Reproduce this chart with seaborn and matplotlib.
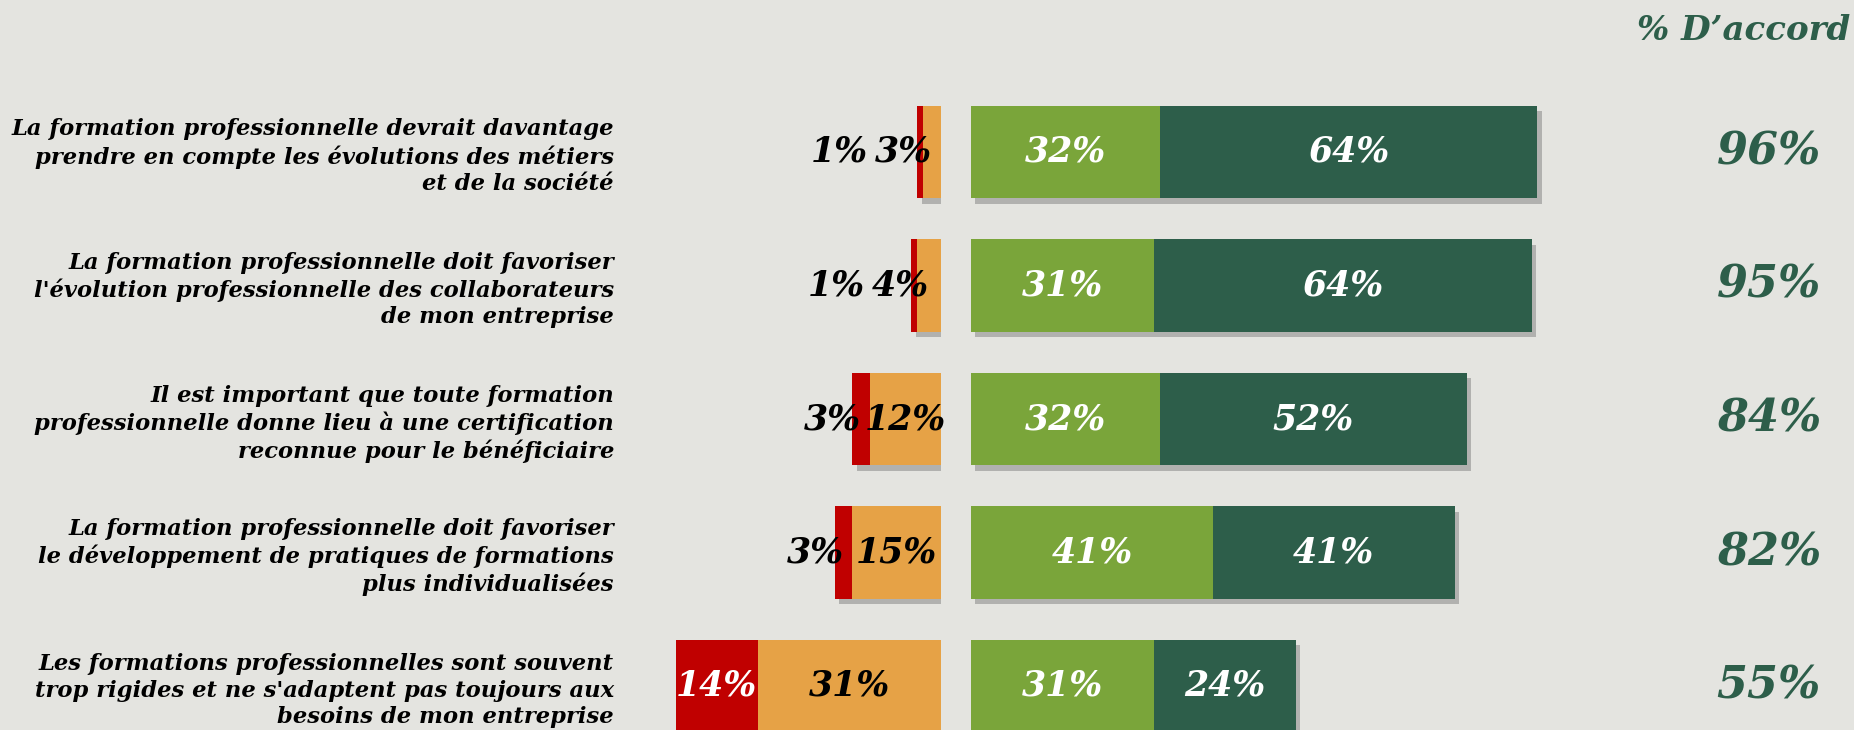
import pandas as pd
import numpy as np
import seaborn as sns
import matplotlib.pyplot as plt
import matplotlib.patheffects as pe

# statements (top to bottom)
statements = [
    "La formation professionnelle devrait davantage\nprendre en compte les évolutions des métiers\net de la société",
    "La formation professionnelle doit favoriser\nl'évolution professionnelle des collaborateurs\nde mon entreprise",
    "Il est important que toute formation\nprofessionnelle donne lieu à une certification\nreconnue pour le bénéficiaire",
    "La formation professionnelle doit favoriser\nle développement de pratiques de formations\nplus individualisées",
    "Les formations professionnelles sont souvent\ntrop rigides et ne s'adaptent pas toujours aux\nbesoins de mon entreprise",
]
pas_du_tout = [1, 1, 3, 3, 14]      # red
plutot_pas = [3, 4, 12, 15, 31]     # orange
plutot = [32, 31, 32, 41, 31]       # light green
tout_a_fait = [64, 64, 52, 41, 24]  # dark green
accord = [96, 95, 84, 82, 55]

RED = "#c00000"
ORANGE = "#e6a246"
LGREEN = "#7aa53a"
DGREEN = "#2d5e4a"
BG = "#e4e4e0"

df = pd.DataFrame({
    "statement": statements,
    "neg_total": np.add(pas_du_tout, plutot_pas),
    "orange": plutot_pas,
    "pos_total": np.add(plutot, tout_a_fait),
    "light": plutot,
})

W, H = 1854, 730
PX = 5.9          # pixels per percent
ROW = 133.5       # pixels between bars
Y0 = 152          # centre of first bar (px from top)

sns.set_theme(style="white")
plt.rcParams["font.family"] = ["DejaVu Serif"]
fig = plt.figure(figsize=(W / 100, H / 100), dpi=100)
fig.patch.set_facecolor(BG)

ylim = ((H - Y0) / ROW, -Y0 / ROW)
shadow = [pe.SimplePatchShadow(offset=(3, -4), shadow_rgbFace="#666666", alpha=0.4), pe.Normal()]
fnt = dict(fontweight="bold", fontstyle="italic")
bar_kw = dict(saturation=1, width=0.69, orient="h", linewidth=0)

# negative side
neg_left, neg_zero = 646, 941
ax_neg = fig.add_axes([neg_left / W, 0, (neg_zero - neg_left) / W, 1])
sns.barplot(data=df, x="neg_total", y="statement", order=statements, color=RED, ax=ax_neg, **bar_kw)
for p in ax_neg.patches:
    p.set_path_effects(shadow)
sns.barplot(data=df, x="orange", y="statement", order=statements, color=ORANGE, ax=ax_neg, **bar_kw)
ax_neg.set_xlim((neg_zero - neg_left) / PX, 0)
ax_neg.set_ylim(*ylim)

# positive side
pos_zero = 971
ax_pos = fig.add_axes([pos_zero / W, 0, (W - pos_zero) / W, 1])
sns.barplot(data=df, x="pos_total", y="statement", order=statements, color=DGREEN, ax=ax_pos, **bar_kw)
for p in ax_pos.patches:
    p.set_path_effects(shadow)
sns.barplot(data=df, x="light", y="statement", order=statements, color=LGREEN, ax=ax_pos, **bar_kw)
ax_pos.set_xlim(0, (W - pos_zero) / PX)
ax_pos.set_ylim(*ylim)

for ax in (ax_neg, ax_pos):
    ax.patch.set_alpha(0)
    ax.set_xlabel("")
    ax.set_ylabel("")
    ax.set_xticks([])
    for s in ax.spines.values():
        s.set_visible(False)
ax_pos.set_yticks([])

# statement labels as tick labels
ax_neg.tick_params(axis="y", length=0, pad=(neg_left - 614) * 0.72)
ax_neg.set_yticks(range(len(statements)))
ax_neg.set_yticklabels(statements, fontsize=16.3, linespacing=1.25, ha="right", color="black", **fnt)

# labels on negative side
lab_fs = 25
for i in range(len(statements)):
    r, o = pas_du_tout[i], plutot_pas[i]
    if o >= 10:
        t_o = ax_neg.text(o / 2, i, f"{o}%", ha="center", va="center", color="black", fontsize=lab_fs, **fnt)
    else:
        t_o = ax_neg.text(o / 2, i, f"{o}%", ha="right", va="center", color="black", fontsize=lab_fs, **fnt)
    if r >= 10:
        ax_neg.text(o + r / 2, i, f"{r}%", ha="center", va="center", color="white", fontsize=lab_fs, **fnt)
    elif o < 10:
        ax_neg.annotate(f"{r}%", xy=(0, 0.5), xycoords=t_o, xytext=(-5, 0), textcoords="offset points",
                        ha="right", va="center", color="black", fontsize=lab_fs, **fnt)
    else:
        ax_neg.text(o + r / 2, i, f"{r}%", ha="right", va="center", color="black", fontsize=lab_fs, **fnt)

# labels on positive side
for i in range(len(statements)):
    a, b = plutot[i], tout_a_fait[i]
    ax_pos.text(a / 2, i, f"{a}%", ha="center", va="center", color="white", fontsize=lab_fs, **fnt)
    ax_pos.text(a + b / 2, i, f"{b}%", ha="center", va="center", color="white", fontsize=lab_fs, **fnt)
    ax_pos.text(135.2, i, f"{accord[i]}%", ha="center", va="center", color=DGREEN, fontsize=32, **fnt)

fig.text(1850 / W, 1 - 30 / H, "% D’accord", ha="right", va="center", color=DGREEN, fontsize=24.5, **fnt)

fig.savefig("out.png", dpi=100, facecolor=BG)
